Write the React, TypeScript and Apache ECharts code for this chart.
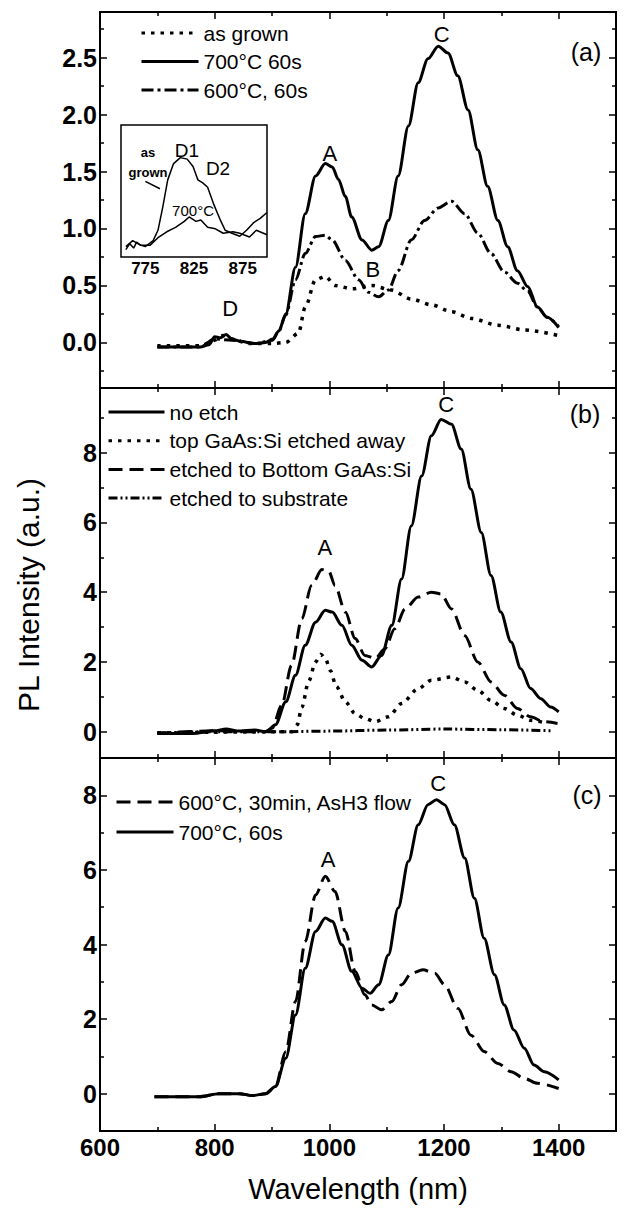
import React, { useEffect, useRef } from "react";
import * as echarts from "echarts";

const FONT = "'Liberation Sans', Arial, Helvetica, sans-serif";

// ---------- Panel (a) ----------
const aGrownNm = [700, 775, 800, 815, 830, 860, 900, 924, 946, 958, 976, 993, 1010, 1040, 1074, 1108, 1143, 1178, 1213, 1248, 1294, 1340, 1400];
const aGrownPL = [-0.03, -0.03, 0.02, 0.06, 0.03, -0.01, -0.01, 0.0, 0.08, 0.31, 0.55, 0.58, 0.5, 0.47, 0.5, 0.46, 0.38, 0.33, 0.27, 0.21, 0.15, 0.11, 0.06];

const a700Nm = [700, 740, 775, 790, 800, 810, 820, 830, 845, 870, 889, 901, 912, 924, 941, 958, 976, 993, 1005, 1016, 1028, 1039, 1057, 1074, 1086, 1103, 1120, 1138, 1155, 1172, 1190, 1207, 1224, 1242, 1259, 1276, 1294, 1311, 1328, 1346, 1363, 1380, 1400];
const a700PL = [-0.04, -0.04, -0.04, -0.02, 0.05, 0.04, 0.07, 0.03, 0.01, -0.01, 0, 0.03, 0.1, 0.25, 0.66, 1.13, 1.46, 1.57, 1.54, 1.43, 1.28, 1.1, 0.9, 0.81, 0.84, 1.07, 1.46, 1.9, 2.28, 2.49, 2.6, 2.54, 2.34, 2.04, 1.69, 1.37, 1.07, 0.84, 0.63, 0.49, 0.31, 0.22, 0.13];

const a600Nm = [700, 775, 800, 830, 870, 901, 912, 924, 941, 958, 976, 993, 1005, 1028, 1051, 1068, 1086, 1103, 1120, 1143, 1166, 1190, 1213, 1236, 1259, 1282, 1305, 1328, 1346, 1363, 1380, 1400];
const a600PL = [-0.04, -0.04, 0.03, 0.02, -0.01, 0.02, 0.1, 0.24, 0.55, 0.78, 0.93, 0.94, 0.9, 0.72, 0.55, 0.44, 0.4, 0.46, 0.63, 0.9, 1.07, 1.18, 1.24, 1.13, 0.96, 0.78, 0.62, 0.52, 0.45, 0.31, 0.22, 0.14];

// inset of panel (a)
const insetGrownNm = [755, 759, 763, 766, 770, 775, 779, 783, 788, 793, 798, 804, 811, 818, 824, 829, 834, 839, 845, 852, 857, 864, 872, 879, 886, 893, 900];
const insetGrownPL = [0.5, 0.9, 0.6, 1.0, 0.8, 0.7, 0.9, 1.1, 1.8, 3.4, 5.2, 6.3, 6.7, 6.6, 6.1, 5.2, 5.0, 4.7, 3.6, 2.5, 1.8, 1.6, 1.4, 1.8, 2.3, 2.6, 3.0];
const inset700Nm = [755, 762, 770, 780, 788, 797, 806, 815, 820, 827, 832, 839, 847, 855, 865, 872, 882, 889, 900];
const inset700PL = [0.7, 1.1, 0.8, 0.8, 1.3, 1.7, 2.0, 2.4, 2.7, 2.4, 2.5, 2.0, 1.9, 1.6, 1.7, 1.6, 1.35, 1.8, 1.5];
const insetArrowNm = [775, 790];
const insetArrowPL = [5.1, 4.6];

// ---------- Panel (b) ----------
const bNoEtchNm = [700, 760, 800, 820, 840, 870, 890, 906, 924, 941, 958, 976, 993, 1005, 1022, 1039, 1057, 1074, 1091, 1109, 1126, 1143, 1161, 1178, 1195, 1213, 1230, 1247, 1265, 1282, 1299, 1317, 1334, 1351, 1369, 1386, 1400];
const bNoEtchPL = [-0.05, -0.05, 0.03, 0.08, 0.02, 0.05, 0.0, 0.2, 0.86, 1.62, 2.48, 3.14, 3.48, 3.43, 3.05, 2.48, 2.05, 1.86, 2.19, 3.05, 4.38, 5.9, 7.33, 8.48, 8.95, 8.81, 8.1, 6.95, 5.71, 4.48, 3.43, 2.57, 1.81, 1.24, 0.95, 0.71, 0.57];

const bTopNm = [700, 900, 935, 944, 952, 964, 976, 985, 993, 1002, 1012, 1028, 1045, 1062, 1080, 1103, 1126, 1155, 1178, 1213, 1236, 1259, 1282, 1305, 1328, 1351, 1380];
const bTopPL = [-0.03, 0, 0, 0.2, 0.7, 1.45, 2.0, 2.22, 2.1, 1.75, 1.3, 0.86, 0.52, 0.38, 0.29, 0.43, 0.81, 1.24, 1.48, 1.57, 1.43, 1.19, 0.9, 0.67, 0.48, 0.33, 0.24];

const bBottomNm = [700, 800, 888, 900, 917, 934, 952, 969, 987, 999, 1010, 1028, 1045, 1062, 1080, 1097, 1114, 1132, 1155, 1178, 1195, 1213, 1236, 1259, 1282, 1305, 1328, 1351, 1374, 1398];
const bBottomPL = [-0.05, 0.03, 0.0, 0.1, 0.76, 1.9, 3.24, 4.19, 4.65, 4.6, 4.19, 3.43, 2.67, 2.19, 2.1, 2.38, 2.95, 3.52, 3.86, 4.0, 3.95, 3.52, 2.76, 2.0, 1.43, 1.05, 0.67, 0.43, 0.29, 0.24];

const bSubNm = [700, 800, 900, 1000, 1100, 1200, 1300, 1390];
const bSubPL = [-0.03, 0.0, 0.0, 0.02, 0.05, 0.08, 0.06, 0.03];

// ---------- Panel (c) ----------
const c600Nm = [695, 773, 808, 843, 866, 889, 906, 924, 941, 958, 976, 993, 1010, 1028, 1045, 1062, 1074, 1091, 1109, 1126, 1143, 1163, 1184, 1201, 1224, 1247, 1270, 1294, 1317, 1340, 1363, 1400];
const c600PL = [-0.08, -0.08, 0, 0, -0.05, 0, 0.19, 1.13, 2.47, 4.08, 5.33, 5.83, 5.42, 4.35, 3.28, 2.65, 2.38, 2.25, 2.47, 2.92, 3.23, 3.32, 3.23, 2.92, 2.29, 1.57, 1.13, 0.81, 0.59, 0.41, 0.28, 0.14];

const c700Nm = [695, 773, 808, 843, 866, 889, 906, 924, 941, 958, 976, 993, 1005, 1022, 1039, 1057, 1071, 1086, 1103, 1120, 1138, 1155, 1172, 1187, 1201, 1218, 1236, 1253, 1270, 1288, 1305, 1322, 1340, 1357, 1375, 1400];
const c700PL = [-0.08, -0.08, 0, 0, -0.05, 0, 0.19, 0.95, 2.11, 3.36, 4.35, 4.71, 4.62, 3.99, 3.28, 2.83, 2.69, 2.92, 3.72, 4.98, 6.23, 7.21, 7.75, 7.88, 7.75, 7.21, 6.32, 5.24, 4.17, 3.19, 2.38, 1.71, 1.22, 0.77, 0.59, 0.37];

// ---------- ticks ----------
const xMajorTicks = [600, 800, 1000, 1200, 1400];
const xMinorTicks = [700, 900, 1100, 1300];
const aYMajor = [0, 0.5, 1, 1.5, 2, 2.5];
const aYMinor = [-0.25, 0.25, 0.75, 1.25, 1.75, 2.25, 2.75];
const bcYMajor = [0, 2, 4, 6, 8];
const bYMinor = [1, 3, 5, 7, 9];
const cYMinor = [1, 3, 5, 7];
const insetXTicks = [775, 800, 825, 850, 875];
const insetXLabels = [775, 825, 875];
const insetYTicks = [1, 2, 3, 4, 5, 6, 7, 8];

// ---------- annotations [x, y, text] ----------
const aPeakLabels: [number, number, string][] = [[1001, 1.66, "A"], [1076, 0.64, "B"], [1196, 2.7, "C"], [827, 0.3, "D"]];
const bPeakLabels: [number, number, string][] = [[992, 5.27, "A"], [1204, 9.38, "C"]];
const cPeakLabels: [number, number, string][] = [[998, 6.27, "A"], [1190, 8.31, "C"]];
const insetSmallLabels: [number, number, string][] = [[777.7, 7.07, "as"], [777.7, 5.72, "grown"]];
const insetDLabels: [number, number, string][] = [[817.8, 7.2, "D1"], [849.7, 6.0, "D2"]];
const insetTempLabels: [number, number, string][] = [[824, 3.16, "700°C"]];

const aLegend = ["as grown", "700°C 60s", "600°C, 60s"];
const bLegend = ["no etch", "top GaAs:Si etched away", "etched to Bottom GaAs:Si", "etched to substrate"];
const cLegend = ["600°C, 30min, AsH3 flow", "700°C, 60s"];

const SOLID = "solid";
const DOTTED = [3.5, 6];
const DASHED = [14, 7];
const DASHDOT = [12, 4, 3, 4];
const DASHDOTDOT = [9, 3, 2, 3, 2, 3];

const tickStyle = { color: "#000", width: 1.5 };

function xAxesFor(g: number, labels: boolean): any[] {
  const base = { type: "value", gridIndex: g, min: 600, max: 1500, axisLine: { show: false, onZero: false }, splitLine: { show: false } };
  const major = { show: true, inside: true, length: 7, customValues: xMajorTicks, lineStyle: tickStyle };
  const minor = { show: true, inside: true, length: 4, customValues: xMinorTicks, lineStyle: tickStyle };
  const bottom: any = {
    ...base,
    position: "bottom",
    axisTick: major,
    axisLabel: labels
      ? {
          show: true,
          customValues: xMajorTicks,
          margin: 4,
          fontSize: 24,
          fontWeight: "bold",
          color: "#000",
          fontFamily: FONT,
          formatter: (v: number) => String(v),
        }
      : { show: false },
  };
  if (labels) {
    Object.assign(bottom, {
      name: "Wavelength (nm)",
      nameLocation: "middle",
      nameGap: 43,
      nameTextStyle: { fontSize: 29, color: "#000", fontFamily: FONT },
    });
  }
  return [
    bottom,
    { ...base, position: "bottom", axisTick: minor, axisLabel: { show: false } },
    { ...base, position: "top", axisTick: major, axisLabel: { show: false } },
    { ...base, position: "top", axisTick: minor, axisLabel: { show: false } },
  ];
}

function yAxesFor(g: number, min: number, max: number, majorV: number[], minorV: number[], fmt: (v: number) => string): any[] {
  const base = { type: "value", gridIndex: g, min, max, axisLine: { show: false, onZero: false }, splitLine: { show: false } };
  const major = { show: true, inside: true, length: 7, customValues: majorV, lineStyle: tickStyle };
  const minor = { show: true, inside: true, length: 4, customValues: minorV, lineStyle: tickStyle };
  return [
    {
      ...base,
      position: "left",
      axisTick: major,
      axisLabel: { show: true, customValues: majorV, margin: 3, fontSize: 25, fontWeight: "bold", color: "#000", fontFamily: FONT, formatter: fmt },
    },
    { ...base, position: "left", axisTick: minor, axisLabel: { show: false } },
    { ...base, position: "right", axisTick: major, axisLabel: { show: false } },
    { ...base, position: "right", axisTick: minor, axisLabel: { show: false } },
  ];
}

function lineSeries(name: string, xs: number[], ys: number[], g: number, type: any, width = 3, z = 3, smooth: any = 0.3) {
  const axisIndex = g === 3 ? 12 : g * 4;
  return {
    name,
    type: "line",
    xAxisIndex: axisIndex,
    yAxisIndex: axisIndex,
    data: xs.map((x, i) => [x, ys[i]]),
    symbol: "none",
    smooth,
    smoothMonotone: "x",
    z,
    lineStyle: { color: "#000", width, type, cap: "butt" },
    itemStyle: { color: "#000" },
    emphasis: { disabled: true },
  };
}

function labelSeries(pts: [number, number, string][], g: number, fontSize: number, fontWeight: any = "normal") {
  const axisIndex = g === 3 ? 12 : g * 4;
  return {
    type: "scatter",
    xAxisIndex: axisIndex,
    yAxisIndex: axisIndex,
    data: pts.map((p) => ({ name: p[2], value: [p[0], p[1]] })),
    symbolSize: 1,
    itemStyle: { color: "rgba(0,0,0,0)", opacity: 1 },
    silent: true,
    z: 5,
    label: {
      show: true,
      position: "inside",
      formatter: "{b}",
      fontSize,
      fontWeight,
      color: "#000",
      opacity: 1,
      textBorderWidth: 0,
      fontFamily: FONT,
    },
  };
}

function legendFor(data: string[], left: number, top: number, itemWidth: number, gap: number) {
  return {
    data,
    orient: "vertical",
    left,
    top,
    padding: 0,
    itemWidth,
    itemHeight: 10,
    itemGap: gap,
    selectedMode: false,
    lineStyle: { width: 3 },
    itemStyle: { color: "rgba(0,0,0,0)", borderWidth: 0, opacity: 0 },
    textStyle: { fontSize: 21, lineHeight: 21, color: "#000", fontFamily: FONT },
  };
}

function buildOption(): any {
  const xAxis = [
    ...xAxesFor(0, false),
    ...xAxesFor(1, false),
    ...xAxesFor(2, true),
    {
      type: "value",
      gridIndex: 3,
      min: 750,
      max: 900,
      position: "bottom",
      axisLine: { show: false, onZero: false },
      splitLine: { show: false },
      axisTick: { show: true, inside: true, length: 4, customValues: insetXTicks, lineStyle: { color: "#000", width: 1 } },
      axisLabel: { show: true, customValues: insetXLabels, margin: 3, fontSize: 17, fontWeight: "bold", color: "#000", fontFamily: FONT },
    },
  ];
  const yAxis = [
    ...yAxesFor(0, -0.4, 2.9, aYMajor, aYMinor, (v) => v.toFixed(1)),
    ...yAxesFor(1, -0.75, 9.85, bcYMajor, bYMinor, (v) => String(v)),
    ...yAxesFor(2, -1, 9, bcYMajor, cYMinor, (v) => String(v)),
    {
      type: "value",
      gridIndex: 3,
      min: 0,
      max: 8.9,
      position: "left",
      axisLine: { show: false, onZero: false },
      splitLine: { show: false },
      axisTick: { show: true, inside: true, length: 4, customValues: insetYTicks, lineStyle: { color: "#000", width: 1 } },
      axisLabel: { show: false },
    },
  ];

  const gridBase = { show: true, borderColor: "#000", borderWidth: 2, backgroundColor: "transparent" };
  const grid = [
    { ...gridBase, left: 100, top: 12, width: 516, height: 376 },
    { ...gridBase, left: 100, top: 388, width: 516, height: 370 },
    { ...gridBase, left: 100, top: 758, width: 516, height: 373 },
    { show: true, borderColor: "#000", borderWidth: 1.5, backgroundColor: "#fff", left: 121, top: 125, width: 146, height: 132, z: 4 },
  ];

  const series = [
    // (a)
    lineSeries("as grown", aGrownNm, aGrownPL, 0, DOTTED, 3.5, 2),
    lineSeries("600°C, 60s", a600Nm, a600PL, 0, DASHDOT, 3, 3),
    lineSeries("700°C 60s", a700Nm, a700PL, 0, SOLID, 3, 4),
    labelSeries(aPeakLabels, 0, 22),
    // inset
    lineSeries("inset as grown", insetGrownNm, insetGrownPL, 3, SOLID, 1.5, 6, false),
    lineSeries("inset 700°C", inset700Nm, inset700PL, 3, SOLID, 1.5, 6, false),
    lineSeries("inset arrow", insetArrowNm, insetArrowPL, 3, SOLID, 1.5, 6, false),
    labelSeries(insetSmallLabels, 3, 13, "bold"),
    labelSeries(insetDLabels, 3, 19),
    labelSeries(insetTempLabels, 3, 15),
    // (b)
    lineSeries("etched to substrate", bSubNm, bSubPL, 1, DASHDOTDOT, 3, 2),
    lineSeries("top GaAs:Si etched away", bTopNm, bTopPL, 1, DOTTED, 3.5, 2),
    lineSeries("etched to Bottom GaAs:Si", bBottomNm, bBottomPL, 1, DASHED, 3, 3),
    lineSeries("no etch", bNoEtchNm, bNoEtchPL, 1, SOLID, 3, 4),
    labelSeries(bPeakLabels, 1, 22),
    // (c)
    lineSeries("600°C, 30min, AsH3 flow", c600Nm, c600PL, 2, DASHED, 3, 3),
    lineSeries("700°C, 60s", c700Nm, c700PL, 2, SOLID, 3, 4),
    labelSeries(cPeakLabels, 2, 22),
  ];

  const panelTag = (text: string, x: number, y: number) => ({
    type: "text",
    x,
    y,
    z: 10,
    style: { text, fontSize: 25, fontFamily: FONT, fill: "#000", align: "center", verticalAlign: "middle", textAlign: "center", textVerticalAlign: "middle" },
  });

  return {
    animation: false,
    backgroundColor: "#fff",
    grid,
    xAxis,
    yAxis,
    legend: [
      legendFor(aLegend, 140, 22.5, 57, 7.5),
      legendFor(bLegend, 107, 401.5, 56, 7.7),
      legendFor(cLegend, 115, 791.5, 57, 9),
    ],
    series,
    graphic: [
      panelTag("(a)", 586, 52),
      panelTag("(b)", 585, 414),
      panelTag("(c)", 587, 795),
      {
        type: "text",
        x: 28,
        y: 595,
        rotation: Math.PI / 2,
        z: 10,
        style: {
          text: "PL Intensity (a.u.)",
          fontSize: 30,
          fontFamily: FONT,
          fill: "#000",
          align: "center",
          verticalAlign: "middle",
          textAlign: "center",
          textVerticalAlign: "middle",
        },
      },
    ],
  };
}

export default function App() {
  const ref = useRef<HTMLDivElement>(null);
  useEffect(() => {
    if (!ref.current) return;
    const chart = echarts.init(ref.current, undefined, { renderer: "svg" });
    chart.setOption(buildOption());
    return () => chart.dispose();
  }, []);
  return (
    <div
      ref={ref}
      style={{ position: "absolute", left: 0, top: 0, width: 624, height: 1211, background: "#fff" }}
    />
  );
}
